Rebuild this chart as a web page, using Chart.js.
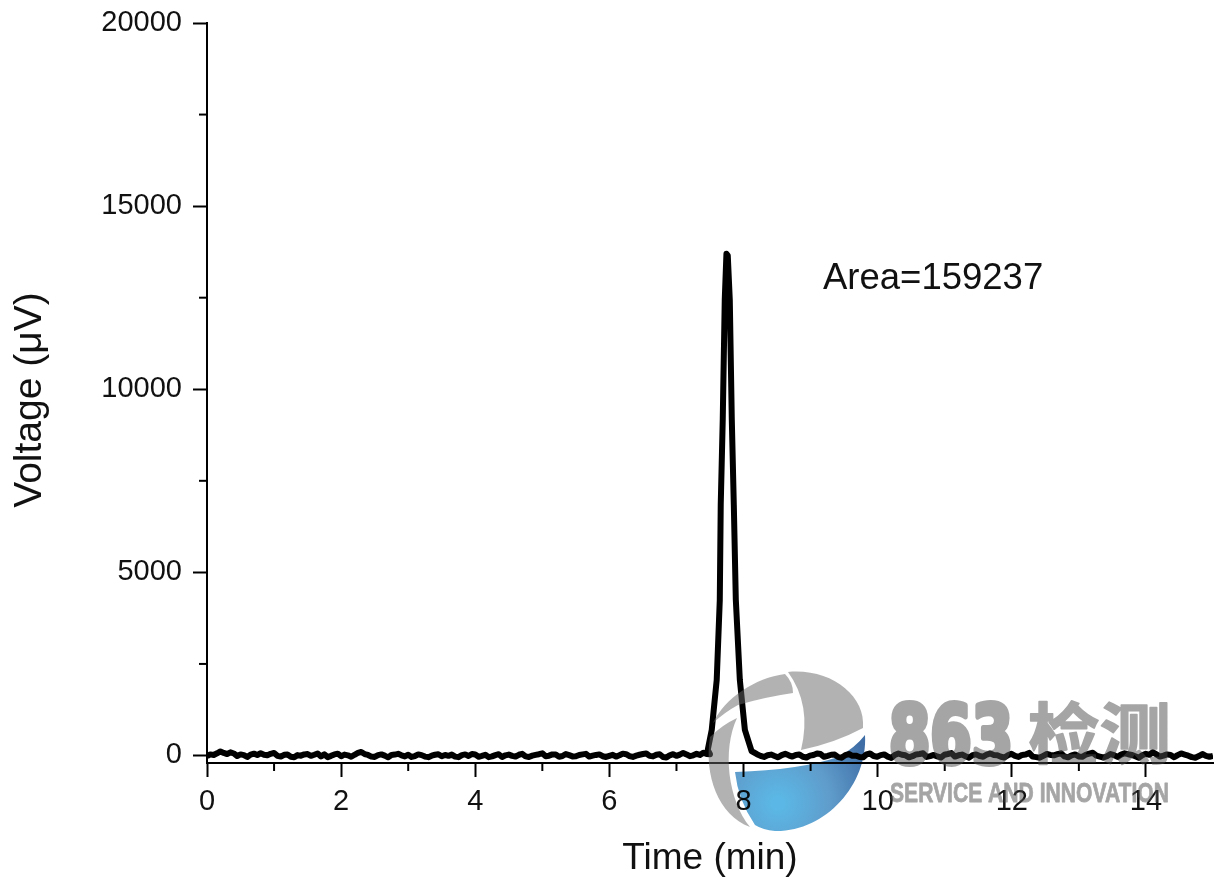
<!DOCTYPE html>
<html><head><meta charset="utf-8">
<style>html,body{margin:0;padding:0;background:#fff}canvas{display:block}</style>
<script src="https://cdn.jsdelivr.net/npm/chart.js@4"></script></head>
<body><canvas id="c" width="1215" height="881"></canvas>
<script>
const xTitle = "Time (min)";
const yTitle = "Voltage (\u03bcV)";
const areaLabel = "Area=159237";
const brandNumber = "863";
const brandWord = "\u68c0\u6d4b";
const brandLine = "SERVICE AND INNOVATION";
const xMajorTicks = [0,2,4,6,8,10,12,14];
const yMajorTicks = [0,5000,10000,15000,20000];
const xMinorTicks = [1,3,5,7,9,11,13];
const yMinorTicks = [2500,7500,12500,17500];
const sampleStepMin = 0.05;
// baseline from 0 to 7.40 min, one reading per sample step
const baseVoltA = [-20,30,15,60,110,70,40,85,55,-15,30,10,-40,25,50,15,60,20,5,45,70,-10,-30,20,25,-35,-50,10,-5,30,40,-10,20,55,-25,30,-45,-10,30,50,-20,25,5,-35,20,70,95,40,15,-30,-40,10,30,-5,-50,15,25,45,5,-25,20,-40,-15,30,10,-30,-45,-5,20,35,-20,15,-10,25,-30,-45,10,30,-15,40,25,-35,-10,20,-45,-25,10,35,-40,5,25,-10,-30,20,45,-25,-40,-5,15,35,60,-20,-5,30,25,-35,-15,40,10,-25,-20,15,30,45,-30,-5,15,30,-20,-40,-10,20,-30,5,50,35,-15,-40,-5,20,40,55,-10,-25,20,35,-40,-55,5,35,-10,25,70,30,-20,5,45,15,75,40,35];
const peakTime = [7.466,7.526,7.6,7.646,7.66,7.69,7.72,7.745,7.765,7.795,7.825,7.855,7.885,7.945,8.02,8.12];
const peakVolt = [150,700,2060,4250,6845,9170,12440,13700,13650,12440,9170,6845,4250,2060,700,120];
// baseline from 8.20 to 15.00 min, one reading per sample step
const baseVoltB = [35,-10,-40,5,25,-15,-50,10,45,5,-30,15,30,-35,-55,-5,15,55,40,-35,-10,20,25,-45,-60,10,40,-10,-5,-40,-50,30,55,-15,-35,10,30,-30,-65,15,55,20,5,-50,-20,30,40,60,-40,-15,15,-25,-55,20,40,65,-30,5,25,-20,-60,10,30,-15,-35,25,55,15,5,-35,-55,5,45,-10,-40,15,25,70,-30,-45,-60,-10,40,15,5,35,60,-25,-50,5,30,-25,-35,20,50,75,-5,-30,-55,-20,40,10,-40,25,60,35,15,-20,-60,5,45,20,90,30,-30,-5,30,15,-50,10,55,25,-5,-45,-60,-15,40,-10,-35,-10];

const series = [];
baseVoltA.forEach((v,i)=>series.push({x:i*sampleStepMin,y:v}));
peakTime.forEach((t,i)=>series.push({x:t,y:peakVolt[i]}));
baseVoltB.forEach((v,i)=>series.push({x:8.2+i*(6.8/(baseVoltB.length-1)),y:v}));

const FONT = '"Liberation Sans", Arial, sans-serif';

const extras = {
  id:'extras',
  afterDraw(chart){
    const {ctx,scales:{x,y}} = chart;
    ctx.save();
    ctx.strokeStyle='#000'; ctx.lineWidth=2;
    xMinorTicks.forEach(v=>{const p=x.getPixelForValue(v);ctx.beginPath();ctx.moveTo(p,y.bottom);ctx.lineTo(p,y.bottom+8);ctx.stroke();});
    yMinorTicks.forEach(v=>{const p=y.getPixelForValue(v);ctx.beginPath();ctx.moveTo(x.left,p);ctx.lineTo(x.left-8,p);ctx.stroke();});
    ctx.fillStyle='#111';
    ctx.font='36.5px '+FONT; ctx.textAlign='left'; ctx.textBaseline='middle';
    ctx.fillText(areaLabel,823,279);
    ctx.translate(30,400); ctx.rotate(-Math.PI/2); ctx.textAlign='center';
    ctx.font='39px '+FONT;
    ctx.fillText(yTitle,0,0);
    ctx.restore();
    // watermark: gray logo pieces
    ctx.save();
    ctx.globalAlpha=0.5; ctx.fillStyle='#656565';
    ctx.beginPath();ctx.moveTo(788,672);ctx.bezierCurveTo(830,668,866,695,863,728);ctx.quadraticCurveTo(835,743,801,750);ctx.quadraticCurveTo(812,705,788,672);ctx.fill();
    ctx.beginPath();ctx.moveTo(785,674);ctx.bezierCurveTo(755,678,725,698,713,723);ctx.quadraticCurveTo(725,712,738,705);ctx.quadraticCurveTo(765,697,793,693);ctx.quadraticCurveTo(793,682,785,674);ctx.fill();
    ctx.beginPath();ctx.moveTo(710,737);ctx.bezierCurveTo(704,775,718,815,750,827);ctx.bezierCurveTo(728,800,722,750,737,718);ctx.quadraticCurveTo(722,725,710,737);ctx.fill();
    ctx.restore();
    // blue lower part
    ctx.save();
    ctx.globalCompositeOperation='multiply';
    const g=ctx.createRadialGradient(778,803,5,778,803,100);
    g.addColorStop(0,'#5bb8e6');g.addColorStop(0.5,'#5f9ccb');g.addColorStop(1,'#3f6ea6');
    ctx.fillStyle=g;
    ctx.beginPath();ctx.moveTo(735,772);ctx.quadraticCurveTo(800,770,838,757);ctx.quadraticCurveTo(855,748,865,735);ctx.bezierCurveTo(868,785,825,832,775,831);ctx.quadraticCurveTo(763,830,755,825);ctx.quadraticCurveTo(738,800,735,772);ctx.fill();
    ctx.restore();
    // brand text composited once so strokes do not double the alpha
    const off=document.createElement('canvas');off.width=1215;off.height=881;
    const o=off.getContext('2d');
    o.fillStyle=o.strokeStyle='#4d4d4d';o.textBaseline='alphabetic';o.textAlign='left';o.lineJoin='round';
    o.save();
    o.font='bold 80px "DejaVu Sans"';
    let w=o.measureText(brandNumber).width;
    o.translate(889,763);o.scale(124/w,1);o.lineWidth=6;o.strokeText(brandNumber,0,0);o.fillText(brandNumber,0,0);
    o.restore();
    o.save();
    o.font='bold 66px "Noto Sans CJK SC"';
    w=o.measureText(brandWord).width;
    o.translate(1028,758);o.scale(143/w,1);o.lineWidth=1.5;o.strokeText(brandWord,0,0);o.fillText(brandWord,0,0);
    o.restore();
    o.save();
    o.font='bold 27px "Liberation Sans"';
    w=o.measureText(brandLine).width;
    o.translate(890,802);o.scale(279/w,1);o.lineWidth=0.8;o.strokeText(brandLine,0,0);o.fillText(brandLine,0,0);
    o.restore();
    ctx.save();ctx.globalAlpha=0.5;ctx.drawImage(off,0,0);ctx.restore();
  }
};

function noScalePadding(s){s.paddingTop=0;s.paddingBottom=0;s.paddingLeft=0;s.paddingRight=0;}

new Chart(document.getElementById('c'),{
  type:'line',
  data:{datasets:[{data:series,borderColor:'#000',borderWidth:6,pointRadius:0,tension:0,fill:false,borderJoinStyle:'round'}]},
  plugins:[extras],
  options:{
    responsive:false,animation:false,
    layout:{padding:{top:23,right:2,left:0,bottom:0}},
    plugins:{legend:{display:false},tooltip:{enabled:false},title:{display:false}},
    scales:{
      x:{type:'linear',min:0,max:15,
        afterFit(s){s.height=118;noScalePadding(s);},
        afterBuildTicks(s){s.ticks=xMajorTicks.map(v=>({value:v}));},
        grid:{drawOnChartArea:false,tickLength:14,tickWidth:2,tickColor:'#000'},
        border:{display:true,color:'#000',width:2},
        ticks:{autoSkip:false,maxRotation:0,color:'#111',padding:8,font:{family:FONT,size:29},callback:v=>String(v)},
        title:{display:true,text:xTitle,color:'#111',font:{family:FONT,size:37},padding:{top:0,bottom:0}}},
      y:{type:'linear',min:-205,max:20000,
        afterFit(s){s.width=207;noScalePadding(s);},
        afterBuildTicks(s){s.ticks=yMajorTicks.map(v=>({value:v}));},
        grid:{drawOnChartArea:false,tickLength:14,tickWidth:2,tickColor:'#000'},
        border:{display:true,color:'#000',width:2},
        ticks:{autoSkip:false,color:'#111',padding:11,font:{family:FONT,size:29},callback:v=>String(v)},
        title:{display:false}}
    }
  }
});
</script></body></html>
